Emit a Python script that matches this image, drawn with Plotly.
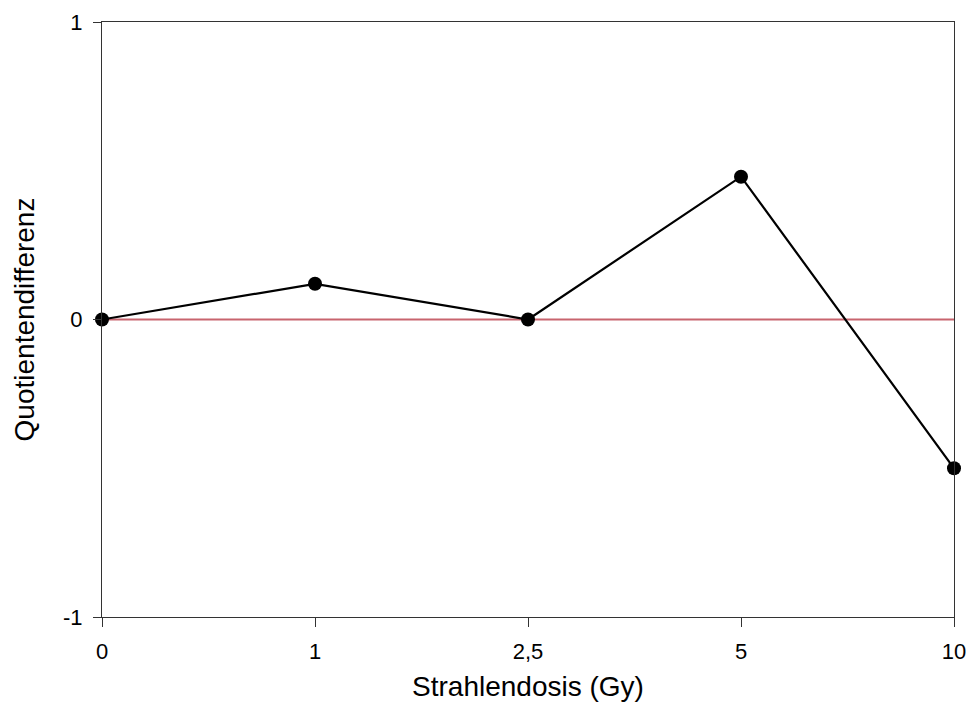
import plotly.graph_objects as go

categories = ["0", "1", "2,5", "5", "10"]
values = [0.0, 0.12, 0.0, 0.48, -0.5]
y_ticks = [-1, 0, 1]
y_ticklabels = ["-1", "0", "1"]

xpos = list(range(len(categories)))

fig = go.Figure()
fig.add_trace(go.Scatter(
    x=[xpos[0], xpos[-1]], y=[0, 0], mode="lines",
    line=dict(color="#c8646e", width=1.8), hoverinfo="skip", showlegend=False,
))
fig.add_trace(go.Scatter(
    x=xpos, y=values, mode="lines+markers",
    line=dict(color="black", width=2.2),
    marker=dict(color="black", size=14),
    cliponaxis=False, showlegend=False,
))

font = "Liberation Sans, Arial, sans-serif"
fig.update_layout(
    width=969, height=715,
    margin=dict(l=102, r=15, t=22, b=98),
    plot_bgcolor="white", paper_bgcolor="white",
    font=dict(family=font, color="black"),
    xaxis=dict(
        range=[0, 4], tickvals=xpos, ticktext=categories,
        showgrid=False, zeroline=False, automargin=False,
        showline=True, linecolor="#333", linewidth=1, mirror=True,
        ticks="outside", ticklen=9, tickcolor="#333",
        tickfont=dict(size=22), ticklabelstandoff=6,
        title=dict(text="Strahlendosis (Gy)", font=dict(size=28), standoff=12),
    ),
    yaxis=dict(
        range=[-1, 1], tickvals=y_ticks, ticktext=y_ticklabels,
        showgrid=False, zeroline=False, automargin=False,
        showline=True, linecolor="#333", linewidth=1, mirror=True,
        ticks="outside", ticklen=8, tickcolor="#333",
        tickfont=dict(size=22), ticklabelstandoff=6,
        title=dict(text="Quotientendifferenz", font=dict(size=28), standoff=20),
    ),
)

fig.write_html("out.html")
